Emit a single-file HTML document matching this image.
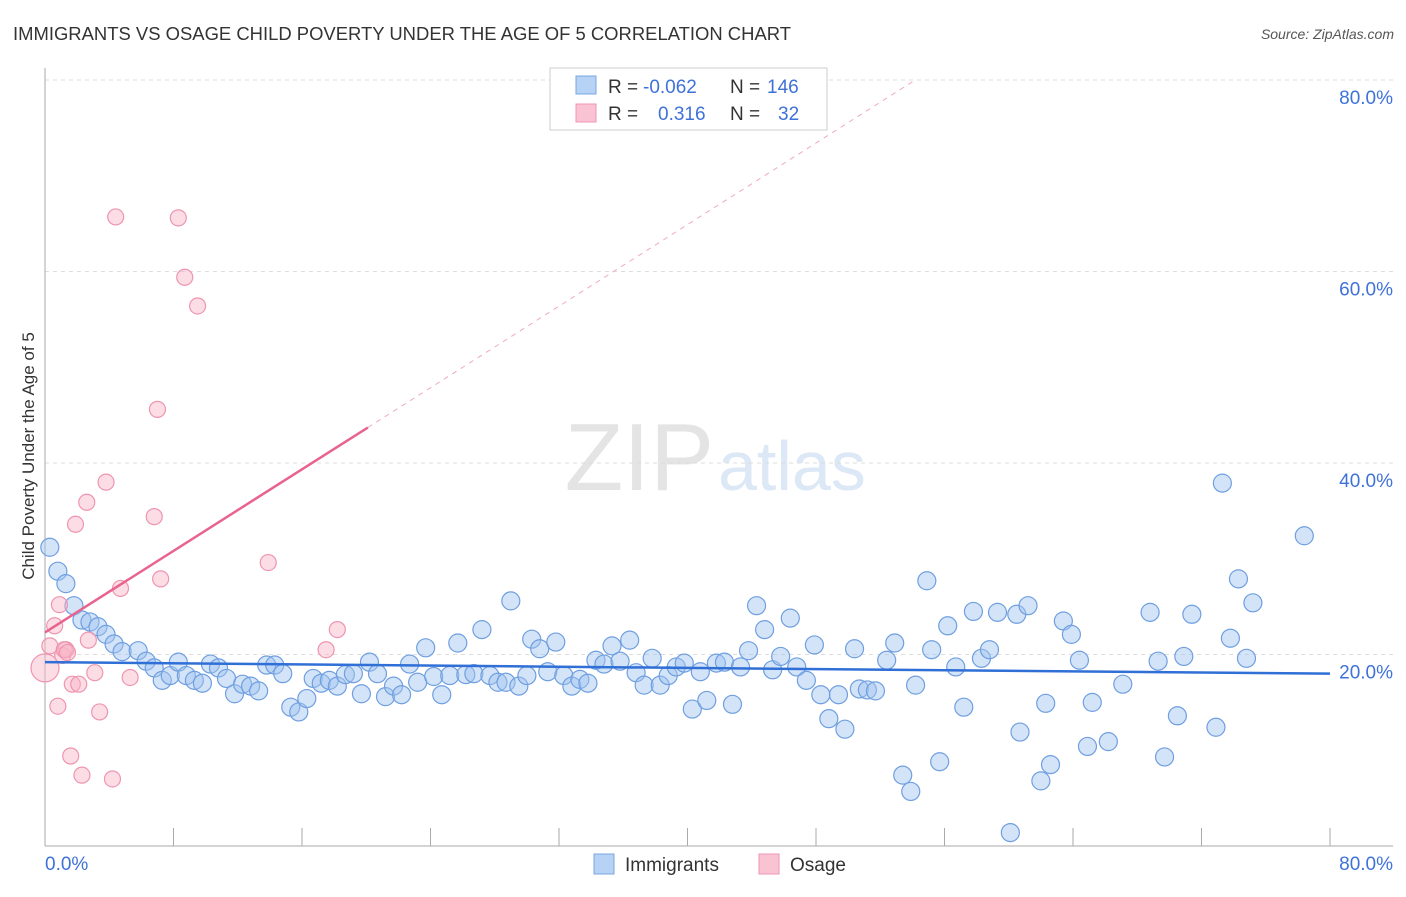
<!DOCTYPE html>
<html><head><meta charset="utf-8"><style>
body{margin:0;background:#fff;font-family:"Liberation Sans",sans-serif}
svg text{font-family:"Liberation Sans",sans-serif}
</style></head><body>
<svg id="c" width="1406" height="892" xmlns="http://www.w3.org/2000/svg">
<text x="13" y="40" font-size="18" fill="#333" textLength="778" lengthAdjust="spacingAndGlyphs">IMMIGRANTS VS OSAGE CHILD POVERTY UNDER THE AGE OF 5 CORRELATION CHART</text>
<text x="1394" y="39" font-size="14" fill="#555" text-anchor="end" font-style="italic">Source: ZipAtlas.com</text>
<text x="714" y="490" font-size="96" fill="#e4e4e4" text-anchor="end" font-family="Liberation Serif">ZIP</text>
<text x="718" y="490" font-size="70" fill="#dce8f6">atlas</text>
<g id="grid"></g><g id="pts"></g><g id="lines"></g>
<text transform="translate(34,456) rotate(-90)" font-size="17" fill="#333" text-anchor="middle">Child Poverty Under the Age of 5</text>
<g>
<rect x="550" y="68" width="277" height="62" fill="#fff" stroke="#ccc"/>
<rect x="576" y="76" width="20" height="18" fill="#b6d2f5" stroke="#7aa7e0"/>
<rect x="576" y="104" width="20" height="18" fill="#fac3d3" stroke="#ee95b0"/>
<text y="93" font-size="19" fill="#333"><tspan x="608">R = </tspan><tspan fill="#3f72d8" x="643">-0.062</tspan><tspan x="730">N = </tspan><tspan fill="#3f72d8" x="767">146</tspan></text>
<text y="120" font-size="19" fill="#333"><tspan x="608">R = </tspan><tspan fill="#3f72d8" x="658">0.316</tspan><tspan x="730">N = </tspan><tspan fill="#3f72d8" x="778">32</tspan></text>
</g>
<g>
<rect x="594" y="854" width="20" height="20" fill="#b6d2f5" stroke="#7aa7e0"/>
<text x="625" y="871" font-size="19" fill="#333">Immigrants</text>
<rect x="759" y="854" width="20" height="20" fill="#fac3d3" stroke="#ee95b0"/>
<text x="790" y="871" font-size="19" fill="#333">Osage</text>
</g>
</svg>
<script>
const blueX=[0.3,0.8,1.3,1.8,2.3,2.8,3.3,3.8,4.3,4.8,5.8,6.3,6.8,7.3,7.8,8.3,8.8,9.3,9.8,10.3,10.8,11.3,11.8,12.3,12.8,13.3,13.8,14.3,14.8,15.3,15.8,16.3,16.7,17.2,17.7,18.2,18.7,19.2,19.7,20.2,20.7,21.2,21.7,22.2,22.7,23.2,23.7,24.2,24.7,25.2,25.7,26.2,26.7,27.2,27.7,28.2,28.7,29.0,29.5,30.0,30.3,30.8,31.3,31.8,32.3,32.8,33.3,33.8,34.3,34.8,35.3,35.8,36.4,36.8,37.3,37.8,38.3,38.8,39.3,39.8,40.3,40.8,41.2,41.8,42.3,42.8,43.3,43.8,44.3,44.8,45.3,45.8,46.4,46.8,47.4,47.9,48.3,48.8,49.4,49.8,50.4,50.7,51.2,51.7,52.4,52.9,53.4,53.9,54.2,54.9,55.2,55.7,56.2,56.7,57.2,57.8,58.3,58.8,59.3,60.1,60.5,60.7,61.2,62.0,62.3,62.6,63.4,63.9,64.4,64.9,65.2,66.2,67.1,68.8,69.3,69.7,70.5,70.9,71.4,72.9,73.3,73.8,74.3,74.8,75.2,78.4];
const blueY=[31.2,28.7,27.4,25.1,23.6,23.4,22.9,22.1,21.1,20.3,20.4,19.3,18.6,17.3,17.8,19.2,17.8,17.3,17.0,19.0,18.6,17.5,15.9,16.9,16.7,16.2,18.9,18.9,18.0,14.5,14.0,15.4,17.5,17.0,17.3,16.7,17.9,18.0,15.9,19.2,18.0,15.6,16.7,15.8,19.0,17.1,20.7,17.7,15.8,17.8,21.2,17.9,18.0,22.6,17.8,17.1,17.1,25.6,16.7,17.8,21.6,20.6,18.2,21.3,17.8,16.7,17.4,17.0,19.4,19.0,20.9,19.3,21.5,18.1,16.8,19.6,16.8,17.8,18.7,19.1,14.3,18.2,15.2,19.1,19.2,14.8,18.7,20.4,25.1,22.6,18.4,19.8,23.8,18.7,17.3,21.0,15.8,13.3,15.8,12.2,20.6,16.4,16.3,16.2,19.4,21.2,7.4,5.7,16.8,27.7,20.5,8.8,23.0,18.7,14.5,24.5,19.6,20.5,24.4,1.4,24.2,11.9,25.1,6.8,14.9,8.5,23.5,22.1,19.4,10.4,15.0,10.9,16.9,24.4,19.3,9.3,13.6,19.8,24.2,12.4,37.9,21.7,27.9,19.6,25.4,32.4];
const pinkX=[0,0.3,0.6,0.8,0.9,1.1,1.3,1.6,1.7,1.9,2.1,2.3,2.6,2.7,3.1,3.4,3.8,4.2,4.4,4.7,5.3,6.8,7.0,7.2,8.3,8.7,9.5,13.9,17.5,18.2,1.2,1.4];
const pinkY=[18.6,20.9,23.0,14.6,25.2,19.9,20.5,9.4,16.9,33.6,16.9,7.4,35.9,21.5,18.1,14.0,38.0,7.0,65.7,26.9,17.6,34.4,45.6,27.9,65.6,59.4,56.4,29.6,20.5,22.6,20.5,20.2];
const blueTrend=[19.2,18.0];
const pinkTrend=[22.3,1.065];
const yTicks=[20,40,60,80];
const xTickCount=10;
const NS="http://www.w3.org/2000/svg";
const X=v=>45+v*1285/80, Y=v=>846-v*191.5/20;
function mk(tag,attrs,parent){const e=document.createElementNS(NS,tag);for(const k in attrs)e.setAttribute(k,attrs[k]);parent.appendChild(e);return e;}
const grid=document.getElementById('grid'),pts=document.getElementById('pts'),lines=document.getElementById('lines');
yTicks.forEach(t=>{
  const l=mk('line',{x1:45,x2:1393,y1:Y(t),y2:Y(t),stroke:'#ddd','stroke-dasharray':'4,4'},grid);
  
  
  const tx=mk('text',{x:1393,y:Y(t)+24,'text-anchor':'end','font-size':19,fill:'#3f72d8'},grid);
  tx.textContent=t.toFixed(1)+'%';
  
  
});
const ax=mk('line',{x1:45,x2:45,y1:68,y2:846,stroke:'#aaa'},grid);


const bx=mk('line',{x1:45,x2:1393,y1:846,y2:846,stroke:'#aaa'},grid);


for(let i=0;i<=xTickCount;i++){
  const t=mk('line',{x1:X(i*8),x2:X(i*8),y1:828,y2:846,stroke:'#aaa'},grid);
  
  
}
[[0,'start',45],[80,'end',1393]].forEach(([v,a,x])=>{
  const t=mk('text',{x:x,y:870,'text-anchor':a,'font-size':19,fill:'#3f72d8'},grid);
  t.textContent=v.toFixed(1)+'%';
  
  
});
blueX.forEach((v,i)=>{
  const c=mk('circle',{cx:X(v),cy:Y(blueY[i]),r:9,fill:'rgba(160,195,240,0.45)',stroke:'#6f9fe0','stroke-width':1.2},pts);
  
  
});
pinkX.forEach((v,i)=>{
  const c=mk('circle',{cx:X(v),cy:Y(pinkY[i]),r:i===0?14:8,fill:'rgba(248,180,200,0.45)',stroke:'#ee95b0','stroke-width':1.2},pts);
  
  
});
const bl=mk('line',{x1:X(0),y1:Y(blueTrend[0]),x2:X(80),y2:Y(blueTrend[1]),stroke:'#2f6fd6','stroke-width':2.5},lines);


const pEnd=20.1, pMax=(80-pinkTrend[0])/pinkTrend[1];
const pl=mk('line',{x1:X(0),y1:Y(pinkTrend[0]),x2:X(pEnd),y2:Y(pinkTrend[0]+pinkTrend[1]*pEnd),stroke:'#e8638e','stroke-width':2.5},lines);


const pd=mk('line',{x1:X(pEnd),y1:Y(pinkTrend[0]+pinkTrend[1]*pEnd),x2:X(pMax),y2:Y(80),stroke:'#eeaabf','stroke-width':1,'stroke-dasharray':'5,5'},lines);


</script>
</body></html>
